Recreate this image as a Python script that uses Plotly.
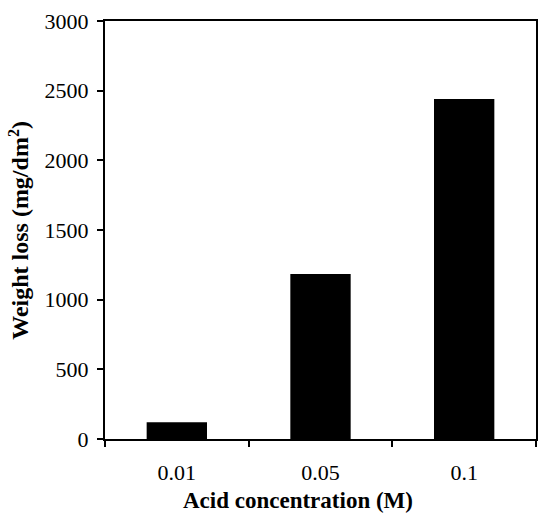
import plotly.graph_objects as go

# Weight loss measured at each acid concentration
concentrations = ["0.01", "0.05", "0.1"]
weight_loss = [120, 1185, 2440]
y_ticks = [0, 500, 1000, 1500, 2000, 2500, 3000]

serif = "Liberation Serif, Times New Roman, serif"

fig = go.Figure(
    go.Bar(
        x=concentrations,
        y=weight_loss,
        marker=dict(color="black", line=dict(width=0)),
        width=0.42,
    )
)

fig.update_layout(
    width=540,
    height=514,
    margin=dict(l=105, r=2, t=21, b=75),
    paper_bgcolor="white",
    plot_bgcolor="white",
    showlegend=False,
    font=dict(family=serif, color="black", size=22),
    annotations=[
        dict(
            text="<b>Acid concentration (M)</b>",
            xref="paper", yref="paper",
            x=(299 - 105) / 433, y=-(515 - 439) / 418,
            xanchor="center", yanchor="bottom",
            showarrow=False,
            font=dict(family=serif, size=23, color="black"),
        ),
        dict(
            text="<b>Weight loss (mg/dm<span style='font-size:23px'><sup>2</sup></span>)</b>",
            xref="paper", yref="paper",
            x=-0.2, y=0.5,
            xanchor="center", yanchor="middle",
            textangle=-90,
            showarrow=False,
            font=dict(family=serif, size=24, color="black"),
        ),
    ],
)

fig.update_xaxes(
    type="category",
    tickson="boundaries",
    ticks="outside",
    ticklen=6,
    tickwidth=1.5,
    tickcolor="black",
    showline=True,
    linecolor="black",
    linewidth=2,
    mirror=True,
    showgrid=False,
    tickfont=dict(family=serif, size=22, color="black"),
    ticklabelstandoff=13,
)

fig.update_yaxes(
    range=[0, 3000],
    tickvals=y_ticks,
    ticks="outside",
    ticklen=6,
    tickwidth=1.5,
    tickcolor="black",
    showline=True,
    linecolor="black",
    linewidth=2,
    mirror=True,
    showgrid=False,
    zeroline=False,
    tickfont=dict(family=serif, size=22, color="black"),
    ticklabelstandoff=4,
)

fig.write_html("out.html")
